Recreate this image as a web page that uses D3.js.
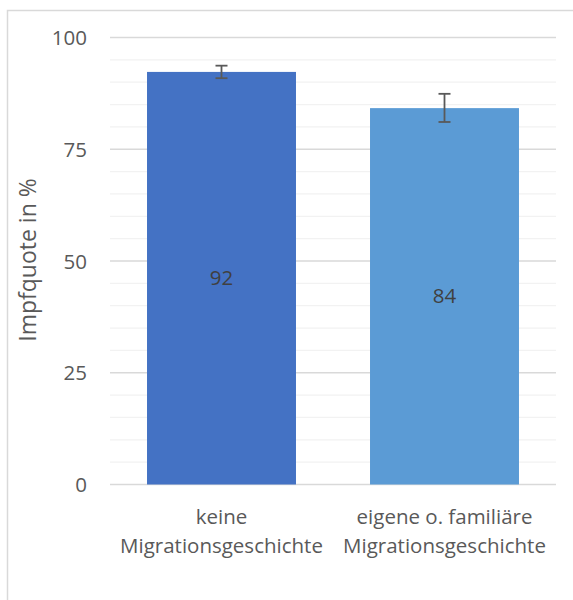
<!DOCTYPE html>
<html><head><meta charset="utf-8">
<script src="https://cdn.jsdelivr.net/npm/d3@7"></script>
<style>html,body{margin:0;padding:0;background:#fff}svg{display:block}</style>
</head><body>
<script>
const categories = [["keine", "Migrationsgeschichte"], ["eigene o. familiäre", "Migrationsgeschichte"]];
const values = [92.3, 84.2];
const errLow = [90.9, 81.1];
const errHigh = [93.7, 87.4];
const yTicks = [0, 25, 50, 75, 100];
const minorTicks = d3.range(0, 101, 5);
const barColors = ["#4472C4", "#5B9BD5"];
const yTitle = "Impfquote in %";

const W = 573, H = 600;
const font = "'Open Sans', sans-serif";
const svg = d3.select("body").append("svg").attr("width", W).attr("height", H);

svg.append("rect").attr("x", 7.5).attr("y", 10.5).attr("width", W + 10).attr("height", H + 10)
  .attr("fill", "#fff").attr("stroke", "#d9d9d9").attr("stroke-width", 1.5);

const x = d3.scaleBand().domain(d3.range(values.length)).range([110, 556])
  .paddingInner(0.332).paddingOuter(0.166);
const y = d3.scaleLinear().domain([0, 100]).range([484.5, 37.5]);

// minor gridlines
svg.append("g").selectAll("line").data(minorTicks.filter(t => t % 25 !== 0)).join("line")
  .attr("x1", 110).attr("x2", 556).attr("y1", d => y(d)).attr("y2", d => y(d))
  .attr("stroke", "#f2f2f2").attr("stroke-width", 1.2);
// major gridlines
svg.append("g").selectAll("line").data(yTicks).join("line")
  .attr("x1", 110).attr("x2", 556).attr("y1", d => y(d)).attr("y2", d => y(d))
  .attr("stroke", "#d9d9d9").attr("stroke-width", 1.3);

// y axis labels
const yAxis = d3.axisLeft(y).tickValues(yTicks).tickSize(0).tickPadding(0);
const ga = svg.append("g").attr("transform", "translate(87,0)").call(yAxis);
ga.select(".domain").remove();
ga.selectAll("text").attr("font-family", font).attr("font-size", 20.5).attr("fill", "#595959").attr("dy", "0.35em");

// bars
svg.append("g").selectAll("rect").data(values).join("rect")
  .attr("x", (d, i) => x(i)).attr("width", x.bandwidth())
  .attr("y", d => y(d)).attr("height", d => y(0) - y(d))
  .attr("fill", (d, i) => barColors[i]);

// error bars
const eg = svg.append("g").attr("stroke", "#595959").attr("stroke-width", 1.8);
values.forEach((v, i) => {
  const cx = x(i) + x.bandwidth() / 2;
  eg.append("line").attr("x1", cx).attr("x2", cx).attr("y1", y(errLow[i])).attr("y2", y(errHigh[i]));
  eg.append("line").attr("x1", cx - 6).attr("x2", cx + 6).attr("y1", y(errLow[i])).attr("y2", y(errLow[i]));
  eg.append("line").attr("x1", cx - 6).attr("x2", cx + 6).attr("y1", y(errHigh[i])).attr("y2", y(errHigh[i]));
});

// data labels
svg.append("g").selectAll("text").data(values).join("text")
  .attr("x", (d, i) => x(i) + x.bandwidth() / 2)
  .attr("y", d => (y(d) + y(0)) / 2).attr("dy", "0.35em")
  .attr("text-anchor", "middle").attr("font-family", font).attr("font-size", 20.5)
  .attr("fill", "#404040").text(d => d3.format(".0f")(d));

// category labels
const cg = svg.append("g").selectAll("text").data(categories).join("text")
  .attr("text-anchor", "middle").attr("font-family", font).attr("font-size", 20.5).attr("fill", "#595959");
cg.each(function(lines, i) {
  const t = d3.select(this);
  lines.forEach((ln, j) => t.append("tspan").attr("x", x(i) + x.bandwidth() / 2).attr("y", 524 + j * 28.5).text(ln));
});

// y title
svg.append("text").attr("transform", "translate(36,260) rotate(-90)")
  .attr("text-anchor", "middle").attr("font-family", font).attr("font-size", 23)
  .attr("fill", "#595959").text(yTitle);
</script>
</body></html>
